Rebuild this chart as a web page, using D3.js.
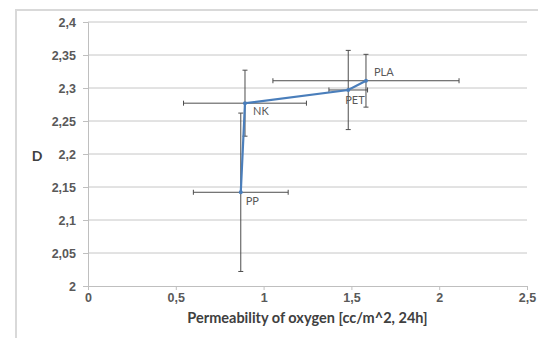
<!DOCTYPE html>
<html>
<head>
<meta charset="utf-8">
<script src="https://cdn.jsdelivr.net/npm/d3@7"></script>
<style>
  body { margin: 0; background: #fff; }
  svg { display: block; font-family: Lato, "Open Sans", sans-serif; }
</style>
</head>
<body>
<svg id="chart" width="538" height="338"></svg>
<script>
// materials, oxygen permeability (x) and D (y) with error bars
const labels = ['PP', 'NK', 'PET', 'PLA'];
const permeability = [0.87, 0.894, 1.482, 1.583];
const dValues = [2.142, 2.277, 2.297, 2.311];
const permErr = [0.27, 0.35, 0.11, 0.53];
const dErr = [0.12, 0.05, 0.06, 0.04];
const xTicks = [0, 0.5, 1, 1.5, 2, 2.5];
const yTicks = [2, 2.05, 2.1, 2.15, 2.2, 2.25, 2.3, 2.35, 2.4];

const svg = d3.select('#chart');
const w = 538, h = 338;
const margin = { left: 88, right: 11, top: 22, bottom: 52 };

const fmt = (v) => String(v).replace('.', ',');

// outer chart border (only left/top visible in frame)
svg.append('rect')
    .attr('x', 16).attr('y', 10)
    .attr('width', 600).attr('height', 400)
    .attr('fill', 'none')
    .attr('stroke', '#d9d9d9')
    .attr('stroke-width', 2);

const x = d3.scaleLinear().domain([0, 2.5]).range([margin.left, w - margin.right]);
const y = d3.scaleLinear().domain([2, 2.4]).range([h - margin.bottom, margin.top]);

// gridlines
svg.append('g')
    .selectAll('line')
    .data(yTicks.slice(1))
    .enter()
    .append('line')
    .attr('x1', x(0)).attr('x2', x(2.5))
    .attr('y1', d => y(d)).attr('y2', d => y(d))
    .attr('stroke', '#c6c6c6')
    .attr('stroke-width', 1);

const yAxis = svg.append('g')
    .attr('transform', 'translate(' + x(0) + ',0)')
    .call(d3.axisLeft(y).tickValues(yTicks).tickFormat(fmt).tickSize(5).tickPadding(7));

const xAxis = svg.append('g')
    .attr('transform', 'translate(0,' + y(2) + ')')
    .call(d3.axisBottom(x).tickValues(xTicks).tickFormat(fmt).tickSize(4).tickPadding(3));

[yAxis, xAxis].forEach(ax => {
    ax.select('.domain').attr('stroke', '#bfbfbf');
    ax.selectAll('.tick line').attr('stroke', '#bfbfbf');
    ax.selectAll('.tick text')
        .attr('fill', '#595959')
        .style('font-size', '12.5px')
        .style('font-weight', 'bold');
});

const data = labels.map((name, i) => ({
    name: name,
    px: permeability[i],
    d: dValues[i],
    ex: permErr[i],
    ey: dErr[i]
}));

// error bars
const errColor = '#4d4d4d';
const cap = 2.5;
const eb = svg.append('g').attr('stroke', errColor).attr('stroke-width', 1);
data.forEach(p => {
    eb.append('line')
        .attr('x1', x(p.px - p.ex)).attr('x2', x(p.px + p.ex))
        .attr('y1', y(p.d)).attr('y2', y(p.d));
    eb.append('line')
        .attr('x1', x(p.px - p.ex)).attr('x2', x(p.px - p.ex))
        .attr('y1', y(p.d) - cap).attr('y2', y(p.d) + cap);
    eb.append('line')
        .attr('x1', x(p.px + p.ex)).attr('x2', x(p.px + p.ex))
        .attr('y1', y(p.d) - cap).attr('y2', y(p.d) + cap);
    eb.append('line')
        .attr('x1', x(p.px)).attr('x2', x(p.px))
        .attr('y1', y(p.d - p.ey)).attr('y2', y(p.d + p.ey));
    eb.append('line')
        .attr('x1', x(p.px) - cap).attr('x2', x(p.px) + cap)
        .attr('y1', y(p.d - p.ey)).attr('y2', y(p.d - p.ey));
    eb.append('line')
        .attr('x1', x(p.px) - cap).attr('x2', x(p.px) + cap)
        .attr('y1', y(p.d + p.ey)).attr('y2', y(p.d + p.ey));
});

// series line
const line = d3.line().x(d => x(d.px)).y(d => y(d.d));
svg.append('path')
    .datum(data)
    .attr('d', line)
    .attr('fill', 'none')
    .attr('stroke', '#4a7ebb')
    .attr('stroke-width', 2.2);

svg.append('g')
    .selectAll('circle')
    .data(data)
    .enter()
    .append('circle')
    .attr('cx', d => x(d.px))
    .attr('cy', d => y(d.d))
    .attr('r', 2)
    .attr('fill', '#4a7ebb');

// point labels
const labelOffset = { PP: [5, 13], NK: [8, 12], PET: [-3, 14], PLA: [8, -5] };
svg.append('g')
    .selectAll('text')
    .data(data)
    .enter()
    .append('text')
    .attr('x', d => x(d.px) + labelOffset[d.name][0])
    .attr('y', d => y(d.d) + labelOffset[d.name][1])
    .attr('fill', '#595959')
    .style('font-size', '11px')
    .text(d => d.name);

// axis titles
svg.append('text')
    .attr('x', (x(0) + x(2.5)) / 2)
    .attr('y', 323)
    .attr('text-anchor', 'middle')
    .attr('fill', '#404040')
    .style('font-size', '14.5px')
    .style('font-weight', 'bold')
    .text('Permeability of oxygen [cc/m^2, 24h]');

svg.append('text')
    .attr('x', 37)
    .attr('y', 161)
    .attr('text-anchor', 'middle')
    .attr('fill', '#404040')
    .style('font-size', '14px')
    .style('font-weight', 'bold')
    .text('D');
</script>
</body>
</html>
